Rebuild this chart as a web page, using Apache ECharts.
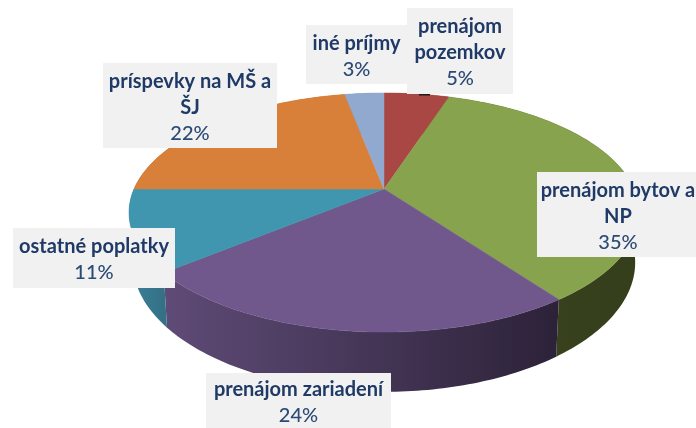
<!DOCTYPE html>
<html><head><meta charset="utf-8">
<style>html,body{margin:0;padding:0;background:#fff}#c{width:696px;height:428px;filter:blur(0.45px)}</style>
<script src="https://cdn.jsdelivr.net/npm/echarts@6/dist/echarts.min.js"></script>
</head><body><div id="c"></div>
<script>
const categories = ['prenájom pozemkov','prenájom bytov a NP','prenájom zariadení','ostatné poplatky','príspevky na MŠ a ŠJ','iné príjmy'];
const labelLines = [['prenájom','pozemkov'],['prenájom bytov a','NP'],['prenájom zariadení'],['ostatné poplatky'],['príspevky na MŠ a','ŠJ'],['iné príjmy']];
const shares = [5,35,24,11,22,3];

const topColors = ['#A84743','#88A34E','#71588C','#3F96AE','#D8803A','#92A9CF'];
const wallColors = [['#6e2e2b','#6e2e2b'],['#3B451F','#353E1B'],['#5F4B77','#2C2238'],['#3C8199','#336F85'],['#8f5526','#8f5526'],['#62728c','#62728c']];
// label boxes: x, y, w, h
const boxes = [[407,8,106,86],[537,172,162,85],[206,373,185,55],[13,228,162,60],[103,63,174,85],[306,25,101,59]];

const C = {x:384,y:189,A:250,B:114.9,k:0.197,H:48,inset:0.985};
function proj(deg,bottom){
  const t=deg*Math.PI/180,u=Math.sin(t),v=Math.cos(t),w=1+C.k*v;
  const X=C.A*u/w,Y=-C.B*v/w;
  if(!bottom) return [C.x+X,C.y+Y];
  return [C.x+X*C.inset,C.y+Y+C.H/w];
}
const total=shares.reduce((a,b)=>a+b,0);
function range(i){
  let s=0; for(let j=0;j<i;j++) s+=shares[j];
  return [s/total*360,(s+shares[i])/total*360];
}
function arc(a,b,bottom){
  const p=[],n=Math.max(2,Math.ceil(b-a));
  for(let i=0;i<=n;i++) p.push(proj(a+(b-a)*i/n,bottom));
  return p;
}
function wall(params,api){
  const i=params.dataIndex,[a,b]=range(i);
  const pts=arc(a,b,false).concat(arc(a,b,true).reverse());
  const xs=pts.map(p=>p[0]);
  return {type:'polygon',shape:{points:pts},style:{
    fill:{type:'linear',global:true,x:Math.min(...xs),y:0,x2:Math.max(...xs),y2:0,
      colorStops:[{offset:0,color:wallColors[i][0]},{offset:1,color:wallColors[i][1]}]},
    stroke:null}};
}
function face(params,api){
  const i=params.dataIndex,[a,b]=range(i);
  return {type:'polygon',shape:{points:[[C.x,C.y]].concat(arc(a,b,false))},
    style:{fill:topColors[i],stroke:topColors[i],lineWidth:0.5}};
}
function label(params,api){
  const i=params.dataIndex,b=boxes[i];
  const lines=labelLines[i].concat([api.value(0)+'%']);
  const lh=26,cx=b[0]+b[2]/2,top=b[1]+b[3]/2-lh*lines.length/2+2;
  const children=[{type:'rect',shape:{x:b[0],y:b[1],width:b[2],height:b[3]},style:{fill:'#F1F1F1'}}];
  lines.forEach((t,j)=>{
    const isPct=j===lines.length-1;
    children.push({type:'text',style:{text:t,x:cx,y:top+lh*j+lh/2,align:'center',verticalAlign:'middle',
      font:(isPct?'500':'700')+' 20px Lato, sans-serif',fill:isPct?'#2B4A75':'#1F3A66'}});
  });
  return {type:'group',children};
}
const chart=echarts.init(document.getElementById('c'),null,{renderer:'canvas'});
const data=categories.map((n,i)=>({name:n,value:shares[i]}));
chart.setOption({
  animation:false,
  backgroundColor:'#fff',
  tooltip:{show:false},
  graphic:[{type:'rect',z:10,shape:{x:419,y:94,width:11,height:1.5},style:{fill:'#1a1a1a'}}],
  series:[
    {type:'custom',coordinateSystem:'none',z:1,data,renderItem:wall,silent:true},
    {type:'custom',coordinateSystem:'none',z:2,data,renderItem:face,silent:true},
    {type:'custom',coordinateSystem:'none',z:3,data,renderItem:label,silent:true}
  ]
});
</script></body></html>
